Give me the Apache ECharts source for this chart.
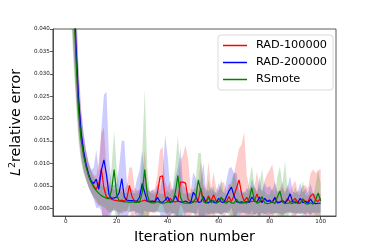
<!DOCTYPE html>
<html><head><meta charset="utf-8">
<script src="https://cdn.jsdelivr.net/npm/echarts@6/dist/echarts.min.js"></script>
<style>html,body{margin:0;padding:0;background:#fff}#c{width:374px;height:249px}</style>
</head><body><div id="c"></div>
<script>
const seriesNames = ['RAD-100000', 'RAD-200000', 'RSmote'];
const xTicks = [0, 20, 40, 60, 80, 100];
const yTicks = [0, 0.005, 0.01, 0.015, 0.02, 0.025, 0.03, 0.035, 0.04];

const rad100kMean = [0.122,0.091,0.067,0.051,0.036,0.024,0.0168,0.0125,0.0095,0.0074,0.006,
0.0049,0.0042,0.0055,0.0088,0.0045,0.0025,0.0022,0.002,0.0018,0.0017,
0.0016,0.0018,0.0016,0.0022,0.0051,0.0026,0.0016,0.0015,0.0015,0.0016,
0.0018,0.0015,0.0014,0.0015,0.0016,0.0035,0.007,0.0072,0.0025,0.0015,
0.0022,0.0015,0.0014,0.0016,0.0058,0.0058,0.0056,0.002,0.0014,0.0015,
0.0014,0.0018,0.0045,0.0018,0.0014,0.0028,0.0015,0.003,0.0016,0.0014,
0.0022,0.0018,0.0014,0.0026,0.0015,0.0028,0.0045,0.0063,0.0032,0.0015,
0.0024,0.0014,0.0015,0.0016,0.0032,0.0015,0.0014,0.0022,0.0016,0.0015,
0.0013,0.0025,0.0013,0.0014,0.0018,0.0013,0.0022,0.0014,0.0016,0.0022,
0.0013,0.0012,0.002,0.0016,0.0014,0.0027,0.0032,0.0018,0.0015,0.0022];
const rad100kStd = [0.031,0.025,0.02,0.015,0.0105,0.0072,0.0052,0.0042,0.0032,0.0027,0.0025,
0.0025,0.003,0.005,0.008,0.0135,0.006,0.0035,0.0025,0.0022,0.0025,
0.0025,0.003,0.0025,0.003,0.004,0.0065,0.003,0.0025,0.0025,0.003,
0.0115,0.004,0.0022,0.0025,0.0028,0.004,0.006,0.0065,0.0035,0.003,
0.004,0.0025,0.003,0.0035,0.005,0.006,0.0085,0.009,0.003,0.0025,
0.003,0.004,0.006,0.0035,0.003,0.0075,0.003,0.005,0.003,0.0025,
0.0035,0.004,0.0025,0.003,0.0035,0.005,0.006,0.007,0.011,0.0155,
0.005,0.003,0.0035,0.003,0.005,0.003,0.0025,0.004,0.006,0.007,
0.0085,0.0035,0.0025,0.003,0.004,0.0025,0.003,0.0025,0.0035,0.004,
0.0025,0.0025,0.003,0.0035,0.003,0.005,0.0055,0.006,0.007,0.0065];

const rad200kMean = [0.125,0.093,0.068,0.052,0.037,0.025,0.0172,0.0128,0.0098,0.0075,0.006,
0.0055,0.0065,0.0042,0.0085,0.0108,0.0075,0.003,0.0022,0.0023,0.0025,
0.0035,0.0066,0.0025,0.0018,0.0017,0.0017,0.0016,0.0016,0.0025,0.0055,
0.0035,0.0016,0.0015,0.0016,0.0014,0.0024,0.0014,0.0013,0.0018,0.0025,
0.0014,0.0014,0.0028,0.0016,0.0014,0.0013,0.0016,0.0013,0.0012,0.0035,
0.0028,0.0013,0.0014,0.0026,0.0013,0.0012,0.0017,0.0013,0.0012,0.0022,
0.0014,0.0012,0.0025,0.0038,0.0047,0.0028,0.0014,0.0013,0.0014,0.0012,
0.0015,0.0013,0.0025,0.0016,0.0013,0.0025,0.0012,0.0022,0.0015,0.0018,
0.0013,0.0023,0.0012,0.0013,0.0016,0.0011,0.0018,0.0032,0.0014,0.0012,
0.0013,0.0022,0.0012,0.0015,0.0011,0.002,0.0012,0.001,0.0011,0.0011];
const rad200kStd = [0.032,0.026,0.021,0.016,0.011,0.0075,0.0055,0.0042,0.0032,0.0028,0.0026,
0.0035,0.0065,0.004,0.009,0.0145,0.0185,0.008,0.003,0.0028,0.003,
0.006,0.0085,0.0125,0.004,0.0025,0.0025,0.0022,0.005,0.006,0.0075,
0.004,0.0025,0.0022,0.0025,0.0022,0.003,0.0025,0.006,0.0145,0.009,
0.003,0.0025,0.004,0.0075,0.012,0.004,0.0028,0.0022,0.0022,0.0045,
0.004,0.0025,0.005,0.0075,0.003,0.0025,0.003,0.0025,0.0022,0.0035,
0.0028,0.0022,0.0035,0.005,0.0045,0.005,0.0065,0.003,0.0025,0.0022,
0.003,0.0025,0.004,0.003,0.0025,0.0045,0.0022,0.0035,0.003,0.0032,
0.0025,0.0035,0.0022,0.0025,0.003,0.0022,0.003,0.004,0.0025,0.0022,
0.0025,0.0035,0.0022,0.003,0.0022,0.0035,0.0022,0.002,0.0022,0.002];

const rsmoteMean = [0.118,0.088,0.064,0.048,0.034,0.022,0.0155,0.0118,0.0092,0.0072,0.0058,
0.0047,0.0039,0.0033,0.0028,0.0025,0.0022,0.0021,0.004,0.0086,0.003,
0.0016,0.0015,0.0014,0.0014,0.0013,0.0014,0.0013,0.0013,0.0013,0.0035,
0.0086,0.003,0.0013,0.0012,0.0012,0.0015,0.0012,0.0011,0.0012,0.0014,
0.0012,0.0016,0.0035,0.0073,0.0025,0.0012,0.0011,0.0012,0.0011,0.0013,
0.0022,0.0063,0.0038,0.0015,0.0011,0.0024,0.0012,0.0018,0.0011,0.0014,
0.0025,0.0013,0.0011,0.0016,0.0012,0.0011,0.002,0.0012,0.0011,0.0013,
0.0011,0.0022,0.0045,0.0018,0.0011,0.0013,0.0026,0.0012,0.001,0.0011,
0.0015,0.001,0.0025,0.0038,0.0014,0.001,0.0011,0.0012,0.001,0.0016,
0.001,0.0011,0.0021,0.001,0.0009,0.0012,0.0009,0.0018,0.0034,0.0015];
const rsmoteStd = [0.03,0.025,0.02,0.015,0.01,0.007,0.005,0.004,0.003,0.0026,0.0024,
0.0022,0.002,0.0025,0.0025,0.0022,0.0025,0.003,0.005,0.0086,0.006,
0.003,0.0022,0.002,0.002,0.0022,0.002,0.002,0.0022,0.003,0.008,
0.018,0.006,0.0022,0.002,0.002,0.0025,0.002,0.002,0.0022,0.0025,
0.002,0.003,0.006,0.009,0.005,0.0022,0.002,0.0022,0.002,0.0025,
0.004,0.006,0.0085,0.0035,0.002,0.004,0.0022,0.0032,0.002,0.0025,
0.004,0.0022,0.002,0.003,0.005,0.007,0.0035,0.0022,0.002,0.0025,
0.002,0.004,0.005,0.0035,0.002,0.004,0.0062,0.0025,0.002,0.002,
0.003,0.002,0.0045,0.0055,0.004,0.0095,0.003,0.0022,0.002,0.0032,
0.002,0.002,0.004,0.002,0.0018,0.0025,0.0018,0.0035,0.005,0.004];

const means = [rad100kMean, rad200kMean, rsmoteMean];
const stds = [rad100kStd, rad200kStd, rsmoteStd];
const colors = ['#ff0000', '#0000ff', '#008000'];
const bandColors = ['rgba(255,0,0,0.2)', 'rgba(0,0,255,0.2)', 'rgba(0,128,0,0.2)'];

const series = [];
means.forEach((m, k) => {
  const sd = stds[k];
  series.push({
    type: 'custom', name: 'band-' + k, silent: true, z: 1,
    data: [[0, m[0]]],
    encode: { x: 0, y: 1 },
    renderItem: function (params, api) {
      const pts = [];
      for (let i = 0; i < m.length; i++) pts.push(api.coord([i, m[i] + sd[i]]));
      for (let i = m.length - 1; i >= 0; i--) pts.push(api.coord([i, m[i] - sd[i]]));
      const cs = params.coordSys;
      return {
        type: 'polygon', shape: { points: pts },
        style: { fill: bandColors[k], stroke: null },
        clipPath: { type: 'rect', shape: { x: cs.x, y: cs.y, width: cs.width, height: cs.height } }
      };
    }
  });
});
means.forEach((m, k) => {
  series.push({
    type: 'line', name: seriesNames[k], data: m.map((v, i) => [i, v]),
    symbol: 'none', lineStyle: { color: colors[k], width: 1.2 }, itemStyle: { color: colors[k] },
    z: 3
  });
});

const chart = echarts.init(document.getElementById('c'), null, { renderer: 'canvas' });
const font = 'DejaVu Sans';
chart.setOption({
  animation: false,
  textStyle: { fontFamily: font },
  grid: { left: 46, right: 38, top: 29, bottom: 29, show: true, borderColor: '#333', borderWidth: 0.8, backgroundColor: 'transparent' },
  legend: {
    data: seriesNames.map(n => ({ name: n, icon: 'rect' })), right: 41, top: 35, orient: 'vertical',
    itemWidth: 24, itemHeight: 1.5, itemGap: 6,
    padding: [5, 6, 5, 5],
    borderColor: '#d0d0d0', borderWidth: 0.8, borderRadius: 3, backgroundColor: 'rgba(255,255,255,0.8)',
    textStyle: { fontFamily: font, fontSize: 11.3, lineHeight: 11, color: '#000', padding: [0, 0, 0, 4] }
  },
  xAxis: {
    type: 'value', min: -5, max: 106,
    name: 'Iteration number', nameLocation: 'middle', nameGap: 14,
    nameTextStyle: { fontFamily: font, fontSize: 14.3, color: '#000' },
    axisLine: { show: true, onZero: false, lineStyle: { color: '#333', width: 0.8 } },
    axisTick: { show: true, length: 3, lineStyle: { color: '#333', width: 0.8 }, customValues: xTicks },
    axisLabel: { fontSize: 5.6, color: '#222', margin: 3, customValues: xTicks, formatter: v => String(v) },
    splitLine: { show: false }
  },
  yAxis: {
    type: 'value', min: -0.00175, max: 0.04,
    name: '{it|L}{sup|2}relative error', nameLocation: 'middle', nameGap: 21,
    nameTextStyle: {
      fontFamily: font, fontSize: 14.3, color: '#000',
      rich: {
        it: { fontFamily: font, fontSize: 14.3, fontStyle: 'italic', color: '#000' },
        sup: { fontFamily: font, fontSize: 9.5, color: '#000', verticalAlign: 'top', padding: [0, 0, 6, 0] }
      }
    },
    axisLine: { show: true, onZero: false, lineStyle: { color: '#333', width: 0.8 } },
    axisTick: { show: true, length: 3, lineStyle: { color: '#333', width: 0.8 }, customValues: yTicks },
    axisLabel: { fontSize: 5.6, color: '#222', margin: 3, customValues: yTicks, formatter: v => v.toFixed(3) },
    splitLine: { show: false }
  },
  series: series
});
</script>
</body></html>
